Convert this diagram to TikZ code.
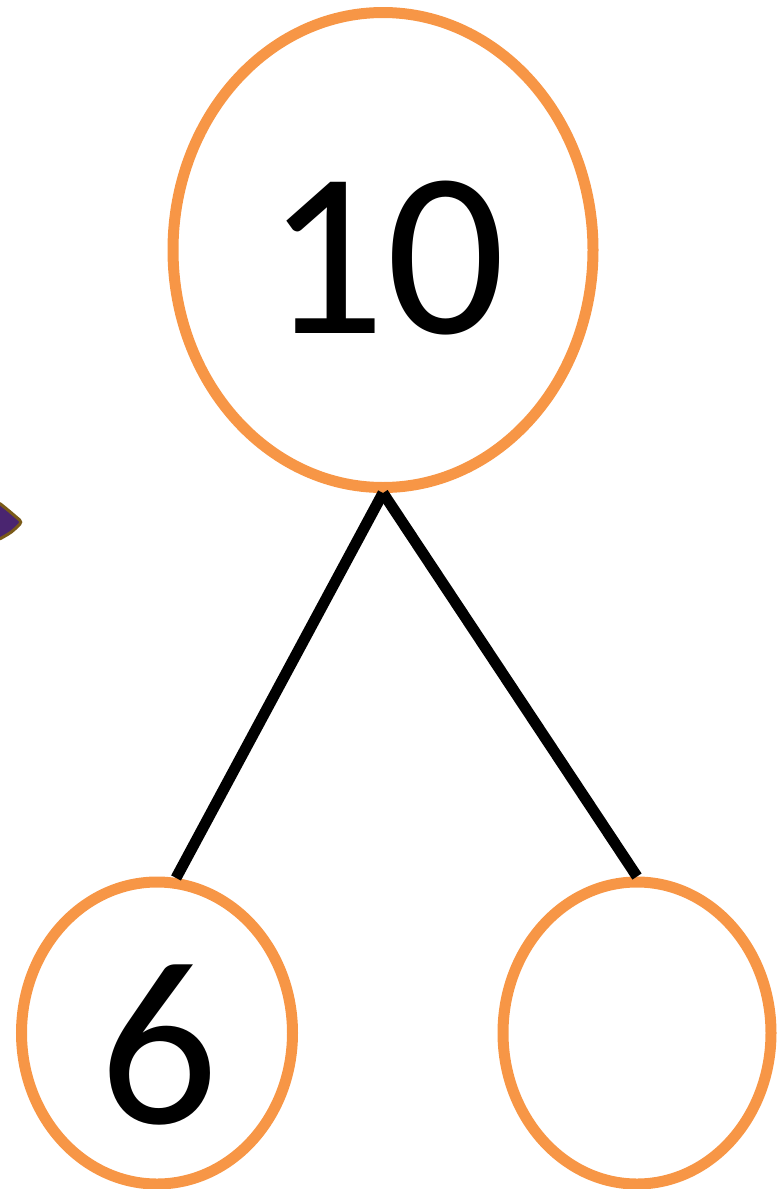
\documentclass[tikz,border=0pt]{standalone}
\usepackage{fontspec}
\setmainfont{Carlito}
\usepackage{tikz}
\usetikzlibrary{positioning,shapes.geometric}
\definecolor{bondorange}{HTML}{F79646}
\definecolor{blobpurple}{HTML}{4A2570}
\definecolor{blobrim}{HTML}{7A5A18}

\begin{document}
\begin{tikzpicture}[x=1pt, y=-1pt,
    part/.style={ellipse, draw=bondorange, line width=11pt, inner sep=0pt},
    num/.style={anchor=base, font=\fontsize{235}{235}\selectfont},
    bond/.style={line width=11pt, black}]
    \useasboundingbox (0,0) rectangle (777,1189);
    % whole and parts
    \node[part, minimum width=420pt, minimum height=475pt] (whole) at (383,250) {};
    \node[part, minimum width=271pt, minimum height=302pt] (left) at (157,1033) {};
    \node[part, minimum width=268pt, minimum height=302pt] (right) at (637,1033) {};
    \node[num] (wholenum) at (386,333) {10};
    \node[num] (leftnum) at (159,1123) {6};
    \draw[bond] (whole.south) -- (left.83);
    \draw[bond] (whole.south) -- (right.north);
    % stray shape at the left edge
    \filldraw[fill=blobpurple, draw=blobrim, line width=3pt, rounded corners=3pt]
      (-2,502) .. controls (8,510) .. (22,522) .. controls (12,532) .. (-2,540) -- cycle;
\end{tikzpicture}
\end{document}
